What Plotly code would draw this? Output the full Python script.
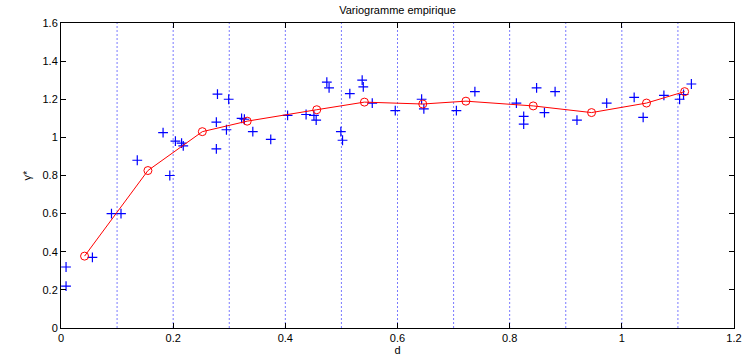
import plotly.graph_objects as go

# empirical cloud (distance, semivariance)
cloud_d = [0.009, 0.009, 0.056, 0.090, 0.107, 0.136, 0.194, 0.182, 0.204, 0.215, 0.218,
           0.279, 0.299, 0.277, 0.277, 0.295, 0.322, 0.327, 0.342, 0.374, 0.404, 0.437,
           0.451, 0.455, 0.474, 0.478, 0.499, 0.502, 0.515, 0.537, 0.539, 0.555, 0.596,
           0.643, 0.647, 0.705, 0.738, 0.812, 0.825, 0.825, 0.848, 0.862, 0.881, 0.920,
           0.973, 1.022, 1.038, 1.075, 1.103, 1.110, 1.124]
cloud_g = [0.32, 0.22, 0.37, 0.60, 0.60, 0.88, 0.80, 1.025, 0.98, 0.97, 0.955,
           1.227, 1.20, 1.08, 0.94, 1.04, 1.10, 1.095, 1.03, 0.99, 1.115, 1.12,
           1.115, 1.09, 1.29, 1.26, 1.03, 0.985, 1.23, 1.30, 1.265, 1.18, 1.14,
           1.20, 1.15, 1.14, 1.24, 1.18, 1.11, 1.07, 1.26, 1.13, 1.24, 1.09,
           1.18, 1.21, 1.105, 1.22, 1.20, 1.225, 1.28]

# binned empirical variogram
bin_d = [0.042, 0.155, 0.252, 0.332, 0.456, 0.541, 0.645, 0.722, 0.842, 0.946, 1.044, 1.112]
bin_g = [0.377, 0.826, 1.03, 1.085, 1.145, 1.185, 1.175, 1.19, 1.165, 1.13, 1.18, 1.24]

# bin edges
edges = [0.1, 0.2, 0.3, 0.4, 0.5, 0.6, 0.7, 0.8, 0.9, 1.0, 1.1]

x_ticks = [0, 0.2, 0.4, 0.6, 0.8, 1.0, 1.2]
x_labels = ["0", "0.2", "0.4", "0.6", "0.8", "1", "1.2"]
y_ticks = [0, 0.2, 0.4, 0.6, 0.8, 1.0, 1.2, 1.4, 1.6]
y_labels = ["0", "0.2", "0.4", "0.6", "0.8", "1", "1.2", "1.4", "1.6"]

fig = go.Figure()

for e in edges:
    fig.add_shape(type="line", xref="x", yref="y", x0=e, x1=e, y0=0, y1=1.6,
                  line=dict(color="#5a5aff", width=1, dash="2px,2px"), layer="below",
                  opacity=0.8)

fig.add_trace(go.Scatter(x=cloud_d, y=cloud_g, mode="markers",
                         marker=dict(symbol="cross-thin", size=7, color="#0000ff",
                                     line=dict(color="#0000ff", width=1.2)),
                         showlegend=False))
fig.add_trace(go.Scatter(x=bin_d, y=bin_g, mode="lines+markers",
                         line=dict(color="#ff0000", width=1),
                         marker=dict(symbol="circle-open", size=8, color="#ff0000",
                                     line=dict(color="#ff0000", width=1)),
                         showlegend=False))

font = dict(family="Liberation Sans, Arial, Helvetica, sans-serif", size=11, color="black")

fig.update_layout(
    width=751, height=361,
    margin=dict(l=61, r=9, t=23, b=22),
    paper_bgcolor="white", plot_bgcolor="white",
    font=font,
    title=dict(text="Variogramme empirique", x=0.5, xref="paper", xanchor="center",
               y=1, yref="container", yanchor="top", pad=dict(t=6),
               font=dict(family="Liberation Sans, Arial, sans-serif", size=11, color="black")),
    xaxis=dict(range=[0, 1.2], tickvals=x_ticks, ticktext=x_labels, ticks="inside",
               ticklen=5, tickcolor="black", showline=True, linecolor="black", linewidth=1,
               mirror="ticks", showgrid=False, zeroline=False,
               title=dict(text="d", standoff=0, font=dict(size=11)),
               tickfont=dict(size=11)),
    yaxis=dict(range=[0, 1.6], tickvals=y_ticks, ticktext=y_labels, ticks="inside",
               ticklen=5, tickcolor="black", showline=True, linecolor="black", linewidth=1,
               mirror="ticks", showgrid=False, zeroline=False,
               title=dict(text="γ*", standoff=8, font=dict(size=11)),
               tickfont=dict(size=11)),
)

fig.write_html("out.html")
